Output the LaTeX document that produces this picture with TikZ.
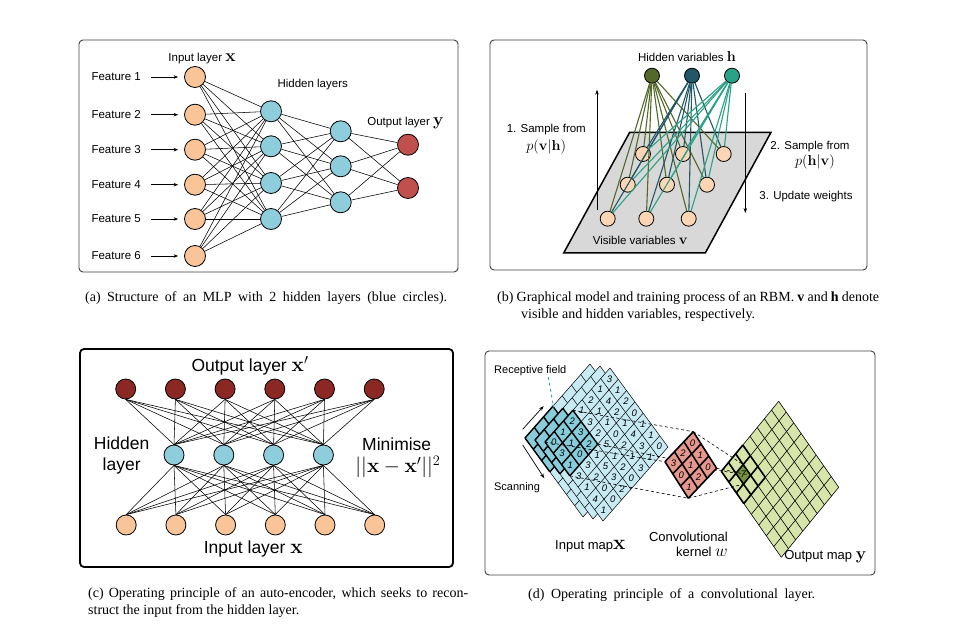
\documentclass[tikz,border=0pt]{standalone}
\usepackage[no-math]{fontspec}
\setmainfont{Liberation Serif}
\setsansfont{Liberation Sans}
\usepackage{amsmath}
\usetikzlibrary{positioning,arrows.meta,calc}

\definecolor{inorange}{RGB}{248,196,152}
\definecolor{hidblue}{RGB}{142,205,220}
\definecolor{outred}{RGB}{192,80,77}
\definecolor{aered}{RGB}{140,40,35}
\definecolor{visorange}{RGB}{252,214,180}
\definecolor{hOlive}{RGB}{84,104,42}
\definecolor{hTeal}{RGB}{32,88,104}
\definecolor{hGreen}{RGB}{42,162,135}
\definecolor{planegray}{RGB}{216,216,216}
\definecolor{mapblue}{RGB}{200,234,243}
\definecolor{fieldblue}{RGB}{134,204,219}
\definecolor{fieldline}{RGB}{70,150,175}
\definecolor{kernred}{RGB}{230,152,142}
\definecolor{mapgreen}{RGB}{215,228,170}
\definecolor{cellgreen}{RGB}{118,148,60}

\tikzset{
  neuron/.style={circle, draw=black, line width=0.8pt, inner sep=0pt, minimum size=21pt},
  inunit/.style={neuron, fill=inorange},
  hidunit/.style={neuron, fill=hidblue},
  outunit/.style={neuron, fill=outred},
  visunit/.style={neuron, fill=visorange, minimum size=15pt},
  rbmunit/.style={neuron, fill=#1, minimum size=15pt},
  aeout/.style={neuron, fill=aered, minimum size=20pt},
  aehid/.style={neuron, fill=hidblue, minimum size=20pt},
  aein/.style={neuron, fill=inorange, minimum size=20pt},
  wire/.style={line width=0.55pt},
  lbl/.style={font=\sffamily\fontsize{11.5}{13.5}\selectfont, inner sep=1pt},
  midlbl/.style={font=\sffamily\fontsize{13}{15}\selectfont, inner sep=1pt},
  biglbl/.style={font=\sffamily\fontsize{17.5}{21}\selectfont, inner sep=1pt},
  captext/.style={font=\fontsize{14}{17}\selectfont, inner sep=0pt},
  panel/.style={draw=black!75, line width=0.9pt, rounded corners=4pt},
  digit/.style={font=\sffamily\itshape\fontsize{9.5}{9.5}\selectfont, inner sep=0pt},
  scan/.style={-{Stealth[length=5pt,width=3.5pt]}, line width=0.7pt},
  feed/.style={-{Stealth[length=4.5pt,width=3.5pt]}, line width=0.6pt, shorten <=9pt, shorten >=6pt},
  link/.style={line width=0.6pt, dash pattern=on 3pt off 2.5pt},
}

% math symbol at its own size
\newcommand{\msym}[2]{{\fontsize{#1}{#1}\selectfont$#2$}}
% skewed map of #1 x #1 cells
\newcommand{\mapgrid}[3]{%
  \fill[#2] (0,0) -- (#1,0) -- (#1,#1) -- (0,#1) -- cycle;
  \foreach \k in {0,...,#1} {
    \draw[line width=#3] (\k,0) -- (\k,#1);
    \draw[line width=#3] (0,\k) -- (#1,\k);
  }}
\newcommand{\fieldgrid}[1]{%
  \foreach \k in {0,...,3} {
    \draw[line width=#1] (\k,0) -- (\k,3);
    \draw[line width=#1] (0,\k) -- (3,\k);
  }}

\begin{document}
\begin{tikzpicture}[x=1pt,y=-1pt]
\useasboundingbox[fill=white] (0,0) rectangle (970,631);

%% (a) MLP
\draw[panel] (79,40) rectangle (458,272);
% nodes
\foreach \i/\y in {1/77,2/114.7,3/149.7,4/184.7,5/219,6/256} {
  \node[inunit] (x\i) at (195,\y) {};
  \node[lbl, anchor=east] (f\i) at (142,\y) {Feature \i};
}
\foreach \i/\y in {1/111.3,2/146.3,3/183,4/219}
  \node[hidunit] (ha\i) at (271,\y) {};
\foreach \i/\y in {1/131.3,2/166.3,3/202.3}
  \node[hidunit] (hb\i) at (340.7,\y) {};
\foreach \i/\y in {1/144.7,2/188}
  \node[outunit] (y\i) at (408,\y) {};
% edges
\foreach \i in {1,...,6} {
  \draw[feed] (f\i.east) -- (x\i.west);
  \foreach \j in {1,...,4} \draw[wire] (x\i) -- (ha\j);
}
\foreach \i in {1,...,4}
  \foreach \j in {1,...,3} \draw[wire] (ha\i) -- (hb\j);
\foreach \i in {1,...,3}
  \foreach \j in {1,2} \draw[wire] (hb\i) -- (y\j);
% labels
\node[lbl, above=1pt of x1, xshift=7pt] (inlbl) {Input layer \msym{17}{\mathbf{x}}};
\node[lbl] (hidlbl) at (312.7,84.7) {Hidden layers};
\node[lbl] (outlbl) at (405.5,123) {Output layer \msym{17}{\mathbf{y}}};

%% (b) RBM
\draw[panel] (490,40) rectangle (867,270);
\draw[fill=planegray, line width=1.5pt] (629.7,132.3) -- (771,132.3) -- (705.3,253) -- (563.7,253) -- cycle;
% nodes
\foreach \r/\y/\xa/\xb/\xc in {1/154/643/683/723.7, 2/184.7/627.7/667/707, 3/218.7/607.7/646.3/688.7} {
  \node[visunit] (v\r-1) at (\xa,\y) {};
  \node[visunit] (v\r-2) at (\xb,\y) {};
  \node[visunit] (v\r-3) at (\xc,\y) {};
}
\foreach \k/\c/\x in {1/hOlive/652, 2/hTeal/692, 3/hGreen/732}
  \node[rbmunit=\c] (h\k) at (\x,75.7) {};
% edges
\foreach \k/\c in {1/hOlive, 2/hTeal, 3/hGreen}
  \foreach \r in {1,2,3}
    \foreach \s in {1,2,3} \draw[\c, line width=1.1pt] (h\k) -- (v\r-\s);
\coordinate (upS) at (597,209.7);
\coordinate (upE) at (597,89.7);
\coordinate (dnS) at (745.3,93);
\coordinate (dnE) at (745.3,213);
\draw[scan, line width=0.6pt] (upS) -- (upE);
\draw[scan, line width=0.6pt] (dnS) -- (dnE);
% labels
\node[lbl] (hvlbl) at (687,57) {Hidden variables \msym{13.5}{\mathbf{h}}};
\node[lbl] (vvlbl) at (640.3,240.7) {Visible variables \msym{15}{\mathbf{v}}};
\node[lbl] (s1) at (546.3,129.7) {1. Sample from};
\node[lbl] (p1) at (546.3,147.3) {\msym{13.5}{p(\mathbf{v}|\mathbf{h})}};
\node[lbl] (s2) at (810,146.3) {2. Sample from};
\node[lbl] (p2) at (815,162) {\msym{13.5}{p(\mathbf{h}|\mathbf{v})}};
\node[lbl] (s3) at (806,197) {3. Update weights};

%% (c) auto-encoder
\draw[panel, draw=black, line width=1.8pt] (80,349) rectangle (453,567);
% nodes
\foreach \i in {1,...,6} {
  \node[aeout] (o\i) at ({125.7+49.7*(\i-1)},389) {};
  \node[aein] (i\i) at ({126.2+49.7*(\i-1)},525) {};
}
\foreach \j in {1,...,4}
  \node[aehid] (c\j) at ({174+49.8*(\j-1)},455) {};
% edges
\foreach \j in {1,...,4}
  \foreach \i in {1,...,6} {
    \draw[wire] (c\j.north) -- (o\i.south);
    \draw[wire] (i\i.north) -- (c\j.south);
  }
% labels
\node[biglbl] (aeoutlbl) at (250,365.7) {Output layer \msym{22}{\mathbf{x}'}};
\node[biglbl] (aeinlbl) at (253.3,549) {Input layer \msym{22}{\mathbf{x}}};
\node[biglbl, align=center] (aehidlbl) at (121.7,455) {Hidden\\layer};
\node[biglbl] (aeminlbl) at (396.7,444) {Minimise};
\node[biglbl, inner sep=0pt] (aeloss) at (398,467) {\msym{20}{||\mathbf{x}-\mathbf{x}'||^2}};

%% (d) convolutional layer
\draw[panel] (485,351) rectangle (875,575);
% input map, three layers
\foreach \sx/\sy in {525/438, 535/440, 545/442} {
  \begin{scope}[shift={(\sx,\sy)}, x={(9.286pt,10.571pt)}, y={(8.286pt,-11.286pt)}]
    \mapgrid{7}{mapblue}{0.5pt}
    \fill[fieldblue] (0,0) -- (3,0) -- (3,3) -- (0,3) -- cycle;
    \fieldgrid{1.4pt}
  \end{scope}
}
\begin{scope}[shift={(545,442)}, x={(9.286pt,10.571pt)}, y={(8.286pt,-11.286pt)}]
  \foreach \a/\b/\d in {6/0/3, 5/0/1, 6/1/1, 4/0/2, 5/1/4, 6/2/2,
      3/0/1, 4/1/1, 5/2/2, 6/3/0, 2/0/2, 3/1/3, 4/2/1, 5/3/1, 6/4/1,
      1/0/1, 2/1/3, 3/2/2, 4/3/0, 5/4/4, 6/5/1,
      0/0/0, 1/1/1, 2/2/2, 3/3/5, 4/4/2, 5/5/3, 6/6/0,
      0/1/3, 1/2/0, 2/3/1, 3/4/1, 4/5/1, 5/6/1,
      0/2/1, 1/3/3, 2/4/5, 3/5/2, 4/6/3,
      0/3/3, 1/4/2, 2/5/3, 3/6/0,
      0/4/1, 1/5/0, 2/6/2, 0/5/4, 1/6/0, 0/6/1}
    \node[digit] at (\a+0.5,\b+0.5) {\d};
  \coordinate (rfL) at (0,0);
  \coordinate (rfT) at (3,0);
  \coordinate (rfR) at (3,3);
  \coordinate (rfB) at (0,3);
\end{scope}
% output map
\begin{scope}[shift={(721.3,471.3)}, x={(7.175pt,8.75pt)}, y={(7.5pt,-10.75pt)}]
  \mapgrid{8}{mapgreen}{0.6pt}
  \fill[cellgreen] (1,1) -- (2,1) -- (2,2) -- (1,2) -- cycle;
  \fieldgrid{1.6pt}
  \node[digit] (ycell) at (1.5,1.5) {7};
  \coordinate (cL) at (1,1);
  \coordinate (cT) at (2,1);
  \coordinate (cR) at (2,2);
  \coordinate (cB) at (1,2);
\end{scope}
% kernel corners
\begin{scope}[shift={(665,461.7)}, x={(9.433pt,10pt)}, y={(7.767pt,-12.2pt)}]
  \coordinate (kL) at (0,0);
  \coordinate (kT) at (3,0);
  \coordinate (kR) at (3,3);
  \coordinate (kB) at (0,3);
\end{scope}
% projections
\foreach \p in {L,T,R,B} {
  \draw[link] (rf\p) -- (k\p);
  \draw[link] (k\p) -- (c\p);
}
% kernel
\begin{scope}[shift={(665,461.7)}, x={(9.433pt,10pt)}, y={(7.767pt,-12.2pt)}]
  \fill[kernred] (0,0) -- (3,0) -- (3,3) -- (0,3) -- cycle;
  \fieldgrid{1.6pt}
  \foreach \a/\b/\d in {2/0/0, 1/0/2, 2/1/1, 0/0/3, 1/1/1, 2/2/0, 0/1/0, 1/2/2, 0/2/1}
    \node[digit] at (\a+0.5,\b+0.5) {\d};
\end{scope}
% labels
\node[lbl, font=\sffamily\fontsize{11}{13}\selectfont] (rflbl) at (530.3,370.7) {Receptive field};
\coordinate (rfTip) at (553.7,408);
\draw[fieldline, dashed, line width=0.8pt, -{Stealth[length=4pt,width=3pt]}] ([xshift=18pt]rflbl.south) -- (rfTip);
\node[lbl, font=\sffamily\fontsize{11}{13}\selectfont] (scanlbl) at (517,488) {Scanning};
\coordinate (scA) at (522.7,429.3);
\coordinate (scB) at (543.7,406);
\coordinate (scC) at (522.7,445);
\coordinate (scD) at (544.3,478.3);
\draw[scan] (scA) -- (scB);
\draw[scan] (scC) -- (scD);
\node[midlbl] (inmaplbl) at (590.3,546.3) {Input map\msym{20}{\mathbf{x}}};
\node[midlbl, align=right, anchor=east] (kernlbl) at (729,544.6) {Convolutional\\kernel \msym{16}{w}};
\node[midlbl] (outmaplbl) at (825.3,556.3) {Output map \msym{19}{\mathbf{y}}};

%% captions
\node[captext, anchor=west] (capa) at (85,298)
  {\makebox[362pt][s]{(a) Structure of an MLP with 2 hidden layers (blue circles).}};
\node[captext, anchor=west, align=left] (capb) at (497,306.5)
  {\makebox[382pt][s]{(b) Graphical model and training process of an RBM. \textbf{v} and \textbf{h} denote}\\\hspace*{24pt}visible and hidden variables, respectively.};
\node[captext, anchor=west, align=left] (capc) at (88,603)
  {\makebox[380pt][s]{(c) Operating principle of an auto-encoder, which seeks to recon-}\\struct the input from the hidden layer.};
\node[captext, anchor=west] (capd) at (528,595)
  {\makebox[287pt][s]{(d) Operating principle of a convolutional layer.}};
\end{tikzpicture}
\end{document}
